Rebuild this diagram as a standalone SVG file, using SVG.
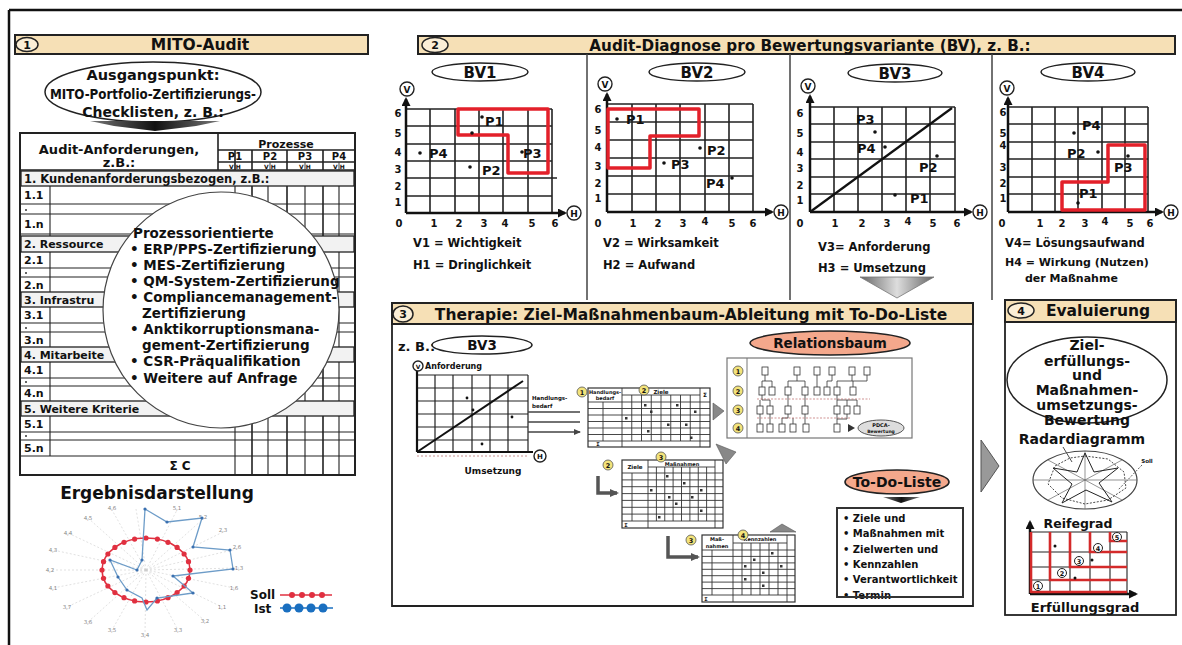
<svg xmlns="http://www.w3.org/2000/svg" width="1182" height="645" viewBox="0 0 1182 645">
<defs>
<style>
.t{font-family:"DejaVu Sans","Liberation Sans",Arial,sans-serif;font-weight:bold;fill:#111}
.c{text-anchor:middle}
.lbl{font-family:"DejaVu Sans","Liberation Sans",Arial,sans-serif;font-size:5.5px;fill:#888;text-anchor:middle}
.hdr{fill:#f6e0b6;stroke:#222;stroke-width:2}
.hc{fill:#fbeed6;stroke:#222;stroke-width:1.5}
.pill{fill:#fff;stroke:#222;stroke-width:1.5}
.grid{stroke:#222;stroke-width:1.6;fill:none}
.axis{stroke:#111;stroke-width:2.5;fill:none}
.vc{fill:#fff;stroke:#222;stroke-width:1.4}
.red{stroke:#e3202a;stroke-width:3.5;fill:none;stroke-linejoin:round}
.thin{stroke:#333;stroke-width:0.8;fill:none}
.tb{stroke:#333;stroke-width:0.9;fill:none}
.yc{fill:#f3e37a;stroke:#555;stroke-width:0.8}
.salmon{fill:#f4a88c;stroke:#222;stroke-width:1.6}
.rl{stroke:#d42a2a;stroke-width:2.6;fill:none}
.mk{fill:#333}
</style>
<marker id="ah" markerWidth="9" markerHeight="9" refX="7" refY="4.5" orient="auto" markerUnits="userSpaceOnUse"><path d="M0,0L9,4.5L0,9z" fill="#111"/></marker>
<marker id="ahs" markerWidth="7" markerHeight="6" refX="6" refY="3" orient="auto" markerUnits="userSpaceOnUse"><path d="M0,0L7,3L0,6z" fill="#444"/></marker>
<marker id="ahg" markerWidth="9" markerHeight="8" refX="7" refY="4" orient="auto" markerUnits="userSpaceOnUse"><path d="M0,0L9,4L0,8z" fill="#555"/></marker>
<linearGradient id="gray" x1="0" y1="0" x2="1" y2="0"><stop offset="0" stop-color="#666"/><stop offset="0.5" stop-color="#ddd"/><stop offset="1" stop-color="#666"/></linearGradient>
<linearGradient id="dark" x1="0" y1="0" x2="1" y2="0"><stop offset="0" stop-color="#777"/><stop offset="0.5" stop-color="#111"/><stop offset="1" stop-color="#777"/></linearGradient>
</defs>
<rect width="1182" height="645" fill="#fff"/>
<path d="M9,10H1182M9,10V645" stroke="#111" stroke-width="2.5" fill="none"/>

<!-- ============ SECTION 1 ============ -->
<g id="sec1-header">
<rect x="15" y="35" width="353" height="19" class="hdr"/>
<ellipse cx="27" cy="44.5" rx="11" ry="7" class="hc"/>
<text x="27" y="48.5" class="t c" font-size="11">1</text>
<text x="200" y="50" class="t c" font-size="15.5">MITO-Audit</text>
</g>
<g id="ausgangspunkt">
<ellipse cx="153" cy="92" rx="108" ry="30" class="pill"/>
<text x="153" y="80" class="t c" font-size="14.5">Ausgangspunkt:</text>
<text x="153" y="99" class="t c" font-size="14" textLength="206" lengthAdjust="spacingAndGlyphs">MITO-Portfolio-Zertifizierungs-</text>
<text x="153" y="117" class="t c" font-size="14">Checklisten, z. B.:</text>
<polygon points="90,121 220,121 196,126 155,131 114,126" fill="url(#dark)"/>
</g>
<g id="audit-table">
<rect x="20" y="133" width="335" height="342" fill="#fff" stroke="#222" stroke-width="2"/>
<path class="grid" d="M218,133V170M218,150H355M218,162H355M235,150V170M252,150V170M287,150V170M323,150V170M20,170H355"/>
<path class="tb" d="M270,162V170M305,162V170M339,162V170"/>
<text x="119" y="154" class="t c" font-size="13">Audit-Anforderungen,</text>
<text x="119" y="167" class="t c" font-size="13">z.B.:</text>
<text x="286" y="148" class="t c" font-size="11">Prozesse</text>
<text x="235" y="160" class="t c" font-size="10">P1</text>
<text x="270" y="160" class="t c" font-size="10">P2</text>
<text x="305" y="160" class="t c" font-size="10">P3</text>
<text x="339" y="160" class="t c" font-size="10">P4</text>
<text x="235" y="168.5" class="t c" font-size="6">V H</text>
<text x="270" y="168.5" class="t c" font-size="6">V H</text>
<text x="305" y="168.5" class="t c" font-size="6">V H</text>
<text x="339" y="168.5" class="t c" font-size="6">V H</text>
<path class="grid" d="M252,186V475M287,186V475M323,186V475"/>
<path d="M235,186V475M268,186V475M305,186V475M339,186V475M50,186V456" stroke="#222" stroke-width="1.1" fill="none"/>
<path d="M20,204H355M20,214H355M20,234H355M20,268H355M20,277H355M20,323H355M20,332H355M20,378H355M20,386H355M20,432H355M20,440H355M20,456H355" stroke="#222" stroke-width="1.1" fill="none"/>
<rect x="21" y="171" width="333" height="15" fill="#f2f2f2" stroke="#222" stroke-width="1.3"/>
<rect x="21" y="236" width="333" height="16" fill="#f2f2f2" stroke="#222" stroke-width="1.3"/>
<rect x="21" y="292" width="333" height="15" fill="#f2f2f2" stroke="#222" stroke-width="1.3"/>
<rect x="21" y="347" width="333" height="15" fill="#f2f2f2" stroke="#222" stroke-width="1.3"/>
<rect x="21" y="401" width="333" height="15" fill="#f2f2f2" stroke="#222" stroke-width="1.3"/>
<text x="24" y="182.5" class="t" font-size="11.5">1. Kundenanforderungsbezogen, z.B.:</text>
<text x="24" y="248" class="t" font-size="11">2. Ressource</text>
<text x="24" y="303.5" class="t" font-size="11">3. Infrastru</text>
<text x="24" y="358.5" class="t" font-size="11">4. Mitarbeite</text>
<text x="24" y="412.5" class="t" font-size="11">5. Weitere Kriterie</text>
<text x="24" y="199" class="t" font-size="11">1.1</text>
<text x="24" y="228" class="t" font-size="11">1.n</text>
<text x="24" y="264" class="t" font-size="11">2.1</text>
<text x="24" y="289" class="t" font-size="11">2.n</text>
<text x="24" y="319" class="t" font-size="11">3.1</text>
<text x="24" y="344" class="t" font-size="11">3.n</text>
<text x="24" y="374" class="t" font-size="11">4.1</text>
<text x="24" y="397" class="t" font-size="11">4.n</text>
<text x="24" y="428" class="t" font-size="11">5.1</text>
<text x="24" y="452" class="t" font-size="11">5.n</text>
<g fill="#333"><circle cx="26" cy="210" r="1"/><circle cx="26" cy="273" r="1"/><circle cx="26" cy="328" r="1"/><circle cx="26" cy="382" r="1"/><circle cx="26" cy="436" r="1"/></g>
<text x="180" y="470" class="t c" font-size="12">Σ C</text>
</g>
<g id="prozess-kreis">
<circle cx="221" cy="310" r="118" fill="#fff" stroke="#444" stroke-width="1.2"/>
<text x="133" y="238" class="t" font-size="13.5">Prozessorientierte</text>
<text x="130" y="254" class="t" font-size="13.5">• ERP/PPS-Zertifizierung</text>
<text x="130" y="270" class="t" font-size="13.5">• MES-Zertifizierung</text>
<text x="130" y="286" class="t" font-size="13.5">• QM-System-Zertifizierung</text>
<text x="130" y="302" class="t" font-size="13.5">• Compliancemanagement-</text>
<text x="142" y="318" class="t" font-size="13.5">Zertifizierung</text>
<text x="130" y="334" class="t" font-size="13.5">• Anktikorruptionsmana-</text>
<text x="142" y="350" class="t" font-size="13.5">gement-Zertifizierung</text>
<text x="130" y="366" class="t" font-size="13.5">• CSR-Präqualifikation</text>
<text x="130" y="383" class="t" font-size="13.5">• Weitere auf Anfrage</text>
</g>
<g id="ergebnisdarstellung">
<text x="157" y="499" class="t c" font-size="17">Ergebnisdarstellung</text>
<path d="M146,570L112,510M146,570L177,510M146,570L203,519M146,570L223,532M146,570L237,549M146,570L239,568M146,570L234,588M146,570L222,607M146,570L205,621M146,570L178,630M146,570L145,635M146,570L112,630M146,570L88,622M146,570L67,607M146,570L53,588M146,570L50,570M146,570L53,550M146,570L68,533M146,570L88,518M146,570L136,509" stroke="#ccc" stroke-width="0.6" stroke-dasharray="2 2" fill="none"/>
<g>
<text class="lbl" x="112" y="510">4,6</text><text class="lbl" x="177" y="510">5,1</text><text class="lbl" x="203" y="519">5,2</text><text class="lbl" x="223" y="532">2,3</text><text class="lbl" x="237" y="549">2,6</text><text class="lbl" x="239" y="570">1,3</text><text class="lbl" x="234" y="590">1,6</text><text class="lbl" x="222" y="609">1,1</text><text class="lbl" x="205" y="623">3,2</text><text class="lbl" x="178" y="632">3,3</text><text class="lbl" x="145" y="637">3,4</text><text class="lbl" x="112" y="632">3,5</text><text class="lbl" x="88" y="624">3,6</text><text class="lbl" x="67" y="609">3,7</text><text class="lbl" x="53" y="590">4,1</text><text class="lbl" x="50" y="572">4,2</text><text class="lbl" x="53" y="552">4,3</text><text class="lbl" x="68" y="535">4,4</text><text class="lbl" x="88" y="520">4,5</text>
</g>
<ellipse cx="146" cy="570" rx="44" ry="32" fill="none" stroke="#e03040" stroke-width="1.6"/>
<g fill="#e03040">
<circle cx="190" cy="570" r="2.6"/><circle cx="188.5" cy="578.3" r="2.6"/><circle cx="184.1" cy="586" r="2.6"/><circle cx="177.1" cy="592.6" r="2.6"/><circle cx="168" cy="597.7" r="2.6"/><circle cx="157.4" cy="600.9" r="2.6"/><circle cx="146" cy="602" r="2.6"/><circle cx="134.6" cy="600.9" r="2.6"/><circle cx="124" cy="597.7" r="2.6"/><circle cx="114.9" cy="592.6" r="2.6"/><circle cx="107.9" cy="586" r="2.6"/><circle cx="103.5" cy="578.3" r="2.6"/><circle cx="102" cy="570" r="2.6"/><circle cx="103.5" cy="561.7" r="2.6"/><circle cx="107.9" cy="554" r="2.6"/><circle cx="114.9" cy="547.4" r="2.6"/><circle cx="124" cy="542.3" r="2.6"/><circle cx="134.6" cy="539.1" r="2.6"/><circle cx="146" cy="538" r="2.6"/><circle cx="157.4" cy="539.1" r="2.6"/><circle cx="168" cy="542.3" r="2.6"/><circle cx="177.1" cy="547.4" r="2.6"/><circle cx="184.1" cy="554" r="2.6"/><circle cx="188.5" cy="561.7" r="2.6"/>
</g>
<polygon points="145,509 167,522 202,518 193,547 230,550 233,569 173,576 193,593 157,598 147,610 142,598 127,590 118,577 110,560 137,570 142,560" fill="none" stroke="#6d9cc8" stroke-width="1.3"/>
<g fill="#3a70b0"><circle cx="145" cy="509" r="1.6"/><circle cx="167" cy="522" r="1.6"/><circle cx="202" cy="518" r="1.6"/><circle cx="193" cy="547" r="1.6"/><circle cx="230" cy="550" r="1.6"/><circle cx="233" cy="569" r="1.6"/><circle cx="173" cy="576" r="1.6"/><circle cx="193" cy="593" r="1.6"/><circle cx="157" cy="598" r="1.6"/><circle cx="127" cy="590" r="1.6"/><circle cx="118" cy="577" r="1.6"/><circle cx="110" cy="560" r="1.6"/><circle cx="137" cy="570" r="1.6"/><circle cx="142" cy="560" r="1.6"/></g>
<text x="250" y="599" class="t" font-size="12">Soll</text>
<text x="254" y="613" class="t" font-size="12">Ist</text>
<path d="M280,595H332" stroke="#e03040" stroke-width="1.5"/>
<g fill="#e03040"><circle cx="292" cy="595" r="3"/><circle cx="302" cy="595" r="3"/><circle cx="312" cy="595" r="3"/><circle cx="322" cy="595" r="3"/></g>
<path d="M280,608H333" stroke="#1a6fc0" stroke-width="1.5"/>
<g fill="#1a6fc0"><circle cx="287" cy="608" r="4.5"/><circle cx="299" cy="608" r="4.5"/><circle cx="311" cy="608" r="4.5"/><circle cx="323" cy="608" r="4.5"/></g>
</g>

<!-- ============ SECTION 2 ============ -->
<g id="sec2-header">
<rect x="418" y="36" width="757" height="18" class="hdr"/>
<ellipse cx="435" cy="45" rx="13" ry="7.5" class="hc"/>
<text x="435" y="49" class="t c" font-size="11">2</text>
<text x="810" y="50.5" class="t c" font-size="15.2">Audit-Diagnose pro Bewertungsvariante (BV), z. B.:</text>
</g>
<path d="M587,54V300M790,54V300M992,54V300" stroke="#444" stroke-width="1.5" fill="none"/>

<g id="bv1">
<ellipse cx="480" cy="72" rx="48" ry="9" class="pill"/>
<text x="480" y="77.5" class="t c" font-size="15">BV1</text>
<path class="grid" d="M430,109V213M455,109V213M479,109V213M503,109V213M528,109V213M552,109V213M406,109H552M406,126H552M406,144H552M406,161H552M406,178H557M406,196H552"/>
<path class="axis" d="M406,213V99" marker-end="url(#ah)"/>
<path class="axis" d="M406,213H565" marker-end="url(#ah)"/>
<circle cx="407" cy="89" r="7" class="vc"/><text x="407" y="92.5" class="t c" font-size="9">V</text>
<circle cx="574" cy="213" r="7" class="vc"/><text x="574" y="216.5" class="t c" font-size="9">H</text>
<g class="t c" font-size="10">
<text x="398" y="117">6</text><text x="398" y="137">5</text><text x="398" y="156">4</text><text x="398" y="173">3</text><text x="398" y="190">2</text><text x="398" y="206">1</text>
<text x="399" y="227">0</text><text x="434" y="227">1</text><text x="459" y="227">2</text><text x="484" y="227">3</text><text x="505" y="227">4</text><text x="532" y="227">5</text><text x="555" y="227">6</text>
</g>
<path class="red" d="M458,109H548V173H508V135H458Z"/>
<g fill="#111"><circle cx="482" cy="117" r="1.8"/><circle cx="472" cy="133" r="1.8"/><circle cx="420" cy="153" r="1.8"/><circle cx="470" cy="167" r="1.8"/><circle cx="522" cy="152" r="1.8"/></g>
<text x="485" y="126" class="t" font-size="13">P1</text>
<text x="429" y="158" class="t" font-size="13">P4</text>
<text x="482" y="175" class="t" font-size="13">P2</text>
<text x="523" y="158" class="t" font-size="13">P3</text>
<text x="413" y="247" class="t" font-size="11.5">V1 = Wichtigkeit</text>
<text x="413" y="269" class="t" font-size="11.5">H1 = Dringlichkeit</text>
</g>

<g id="bv2">
<ellipse cx="697" cy="72" rx="48" ry="9" class="pill"/>
<text x="697" y="77.5" class="t c" font-size="15">BV2</text>
<path class="grid" d="M632,104V212M656,104V212M680,104V212M705,104V212M729,104V212M753,104V212M607,104H753M607,122H753M607,140H753M607,158H753M607,176H753M607,194H753"/>
<path class="axis" d="M607,212V94" marker-end="url(#ah)"/>
<path class="axis" d="M607,212H772" marker-end="url(#ah)"/>
<circle cx="605" cy="84" r="7" class="vc"/><text x="605" y="87.5" class="t c" font-size="9">V</text>
<circle cx="781" cy="212" r="7" class="vc"/><text x="781" y="215.5" class="t c" font-size="9">H</text>
<g class="t c" font-size="10">
<text x="598" y="113">6</text><text x="598" y="134">5</text><text x="598" y="151">4</text><text x="598" y="170">3</text><text x="598" y="187">2</text><text x="598" y="202">1</text>
<text x="598" y="227">0</text><text x="633" y="227">1</text><text x="658" y="227">2</text><text x="683" y="227">3</text><text x="705" y="225">4</text><text x="732" y="227">5</text><text x="753" y="227">6</text>
</g>
<path class="red" d="M608,109H699V136H650V168H608Z"/>
<g fill="#111"><circle cx="617" cy="119" r="1.8"/><circle cx="700" cy="148" r="1.8"/><circle cx="664" cy="163" r="1.8"/><circle cx="732" cy="178" r="1.8"/></g>
<text x="626" y="124" class="t" font-size="13">P1</text>
<text x="707" y="155" class="t" font-size="13">P2</text>
<text x="671" y="169" class="t" font-size="13">P3</text>
<text x="706" y="188" class="t" font-size="13">P4</text>
<text x="603" y="247" class="t" font-size="11.5">V2 = Wirksamkeit</text>
<text x="603" y="269" class="t" font-size="11.5">H2 = Aufwand</text>
</g>

<g id="bv3">
<ellipse cx="895" cy="73" rx="47" ry="9" class="pill"/>
<text x="895" y="78.5" class="t c" font-size="15">BV3</text>
<path class="grid" d="M834,107V212M858,107V212M882,107V212M906,107V212M930,107V212M955,107V212M810,107H955M810,124H955M810,142H955M810,159H955M810,177H955M810,194H955"/>
<path class="axis" d="M810,212V96" marker-end="url(#ah)"/>
<path class="axis" d="M810,212H971" marker-end="url(#ah)"/>
<path d="M810,212L952,108" stroke="#111" stroke-width="2.2"/>
<circle cx="808" cy="86" r="7" class="vc"/><text x="808" y="89.5" class="t c" font-size="9">V</text>
<circle cx="980" cy="212" r="7" class="vc"/><text x="980" y="215.5" class="t c" font-size="9">H</text>
<g class="t c" font-size="10">
<text x="800" y="117">6</text><text x="800" y="137">5</text><text x="800" y="156">4</text><text x="800" y="172">3</text><text x="800" y="189">2</text><text x="800" y="204">1</text>
<text x="800" y="227">0</text><text x="835" y="227">1</text><text x="862" y="227">2</text><text x="887" y="227">3</text><text x="908" y="225">4</text><text x="933" y="227">5</text><text x="957" y="227">6</text>
</g>
<g fill="#111"><circle cx="875" cy="132" r="1.8"/><circle cx="885" cy="147" r="1.8"/><circle cx="937" cy="156" r="1.8"/><circle cx="895" cy="195" r="1.8"/></g>
<text x="856" y="124" class="t" font-size="13">P3</text>
<text x="857" y="153" class="t" font-size="13">P4</text>
<text x="919" y="172" class="t" font-size="13">P2</text>
<text x="910" y="203" class="t" font-size="13">P1</text>
<text x="818" y="251" class="t" font-size="11.5">V3= Anforderung</text>
<text x="818" y="272" class="t" font-size="11.5">H3 = Umsetzung</text>
</g>

<g id="bv4">
<ellipse cx="1088" cy="72" rx="47" ry="9" class="pill"/>
<text x="1088" y="77.5" class="t c" font-size="15">BV4</text>
<path class="grid" d="M1032,107V212M1055,107V212M1078,107V212M1102,107V212M1125,107V212M1148,107V212M1008,107H1148M1008,124H1148M1008,142H1148M1008,159H1148M1008,177H1148M1008,194H1148"/>
<path class="axis" d="M1008,212V98" marker-end="url(#ah)"/>
<path class="axis" d="M1008,212H1162" marker-end="url(#ah)"/>
<circle cx="1007" cy="88" r="7" class="vc"/><text x="1007" y="91.5" class="t c" font-size="9">V</text>
<circle cx="1171" cy="212" r="7" class="vc"/><text x="1171" y="215.5" class="t c" font-size="9">H</text>
<g class="t c" font-size="10">
<text x="1003" y="116">6</text><text x="1003" y="137">5</text><text x="1003" y="149">4</text><text x="1003" y="171">3</text><text x="1003" y="187">2</text><text x="1003" y="202">1</text>
<text x="1002" y="227">0</text><text x="1040" y="227">1</text><text x="1062" y="227">2</text><text x="1085" y="227">3</text><text x="1105" y="225">4</text><text x="1130" y="227">5</text><text x="1150" y="227">6</text>
</g>
<path class="red" d="M1062,182H1108V145H1145V210H1062Z"/>
<g fill="#111"><circle cx="1074" cy="133" r="1.8"/><circle cx="1098" cy="152" r="1.8"/><circle cx="1128" cy="156" r="1.8"/><circle cx="1078" cy="203" r="1.8"/></g>
<text x="1082" y="130" class="t" font-size="13">P4</text>
<text x="1067" y="158" class="t" font-size="13">P2</text>
<text x="1114" y="172" class="t" font-size="13">P3</text>
<text x="1079" y="198" class="t" font-size="13">P1</text>
<text x="1005" y="247" class="t" font-size="11.5">V4= Lösungsaufwand</text>
<text x="1005" y="266" class="t" font-size="11">H4 = Wirkung (Nutzen)</text>
<text x="1025" y="282" class="t" font-size="11">der Maßnahme</text>
</g>

<!-- ============ SECTION 3 ============ -->
<g id="sec3-header">
<rect x="392" y="303" width="581" height="21" class="hdr"/>
<ellipse cx="403" cy="314" rx="10" ry="8" class="hc"/>
<text x="403" y="318" class="t c" font-size="11">3</text>
<text x="691" y="319.5" class="t c" font-size="15.5">Therapie: Ziel-Maßnahmenbaum-Ableitung mit To-Do-Liste</text>
</g>
<path d="M392,324V606H973V324" stroke="#222" stroke-width="1.8" fill="none"/>

<g id="bv3-beispiel">
<text x="398" y="351" class="t" font-size="13">z. B.:</text>
<ellipse cx="482" cy="345" rx="50" ry="9" class="pill"/>
<text x="482" y="350" class="t c" font-size="13.5">BV3</text>
<path d="M435,375V452M453,375V452M472,375V452M490,375V452M508,375V452M528,375V452M417,375H528M417,388H528M417,401H528M417,414H528M417,427H528M417,440H528" stroke="#222" stroke-width="1.2" fill="none"/>
<path d="M417,452V371M417,452H533" stroke="#111" stroke-width="2.2" fill="none"/>
<path d="M417,452L523,381" stroke="#111" stroke-width="2"/>
<path d="M417,456H528" stroke="#b77" stroke-width="0.8" stroke-dasharray="2 2"/>
<circle cx="418" cy="366" r="5" class="vc"/><text x="418" y="368.5" class="t c" font-size="6">V</text>
<text x="425" y="369" class="t" font-size="8">Anforderung</text>
<circle cx="540" cy="456" r="6" class="vc"/><text x="540" y="459" class="t c" font-size="7">H</text>
<text x="493" y="474" class="t c" font-size="9">Umsetzung</text>
<g fill="#111"><circle cx="467" cy="398" r="1.4"/><circle cx="473" cy="410" r="1.4"/><circle cx="512" cy="417" r="1.4"/><circle cx="482" cy="444" r="1.4"/></g>
<text x="532" y="400" class="t" font-size="5.5">Handlungs-</text>
<text x="532" y="408" class="t" font-size="5.5">bedarf</text>
</g>

<g id="tabelle1">
<rect x="588" y="388" width="122" height="59" fill="#fff" stroke="#333" stroke-width="1.2"/>
<path class="tb" d="M603,402V441M622,388V447M631.75,395V441M641.5,395V441M651.25,395V441M661,395V441M670.75,395V441M680.5,395V441M690.25,395V441M700,388V447M622,395H700M588,402H710M588,408.5H710M588,415H710M588,421.5H710M588,428H710M588,434.5H710M588,441H710"/>
<text x="605" y="394" class="t c" font-size="5">Handlungs-</text>
<text x="605" y="400" class="t c" font-size="5">bedarf</text>
<text x="661" y="393.5" class="t c" font-size="5.5">Ziele</text>
<text x="705" y="397" class="t c" font-size="6">Σ</text>
<text x="598" y="446" class="t c" font-size="5">Σ</text>
<g class="mk"><rect x="644" y="404" width="2.5" height="2.5"/><rect x="676" y="404" width="2.5" height="2.5"/><rect x="650" y="410.5" width="2.5" height="2.5"/><rect x="694" y="410.5" width="2.5" height="2.5"/><rect x="625" y="417" width="2.5" height="2.5"/><rect x="667" y="423.5" width="2.5" height="2.5"/><rect x="685" y="423.5" width="2.5" height="2.5"/><rect x="647" y="430" width="2.5" height="2.5"/><rect x="690" y="436.5" width="2.5" height="2.5"/></g>
<circle cx="582" cy="392" r="5" class="yc"/><text x="582" y="394.5" class="t c" font-size="6.5">1</text>
<circle cx="644" cy="390" r="5" class="yc"/><text x="644" y="392.5" class="t c" font-size="6.5">2</text>
</g>

<g id="tabelle2">
<rect x="622" y="460" width="101" height="68" fill="#fff" stroke="#333" stroke-width="1.2"/>
<path class="tb" d="M632,473V521M648,460V528M656.4,467V521M664.75,467V521M673.1,467V521M681.5,467V521M689.9,467V521M698.25,467V521M706.6,467V521M715,460V528M648,467H715M622,473H723M622,479.9H723M622,486.7H723M622,493.6H723M622,500.4H723M622,507.3H723M622,514.1H723M622,521H723"/>
<text x="635" y="468.5" class="t c" font-size="5.5">Ziele</text>
<text x="682" y="465.5" class="t c" font-size="5">Maßnahmen</text>
<text x="626" y="527" class="t c" font-size="5">Σ</text>
<g class="mk"><rect x="666" y="475" width="2.5" height="2.5"/><rect x="683" y="482" width="2.5" height="2.5"/><rect x="650" y="489" width="2.5" height="2.5"/><rect x="700" y="489" width="2.5" height="2.5"/><rect x="668" y="496" width="2.5" height="2.5"/><rect x="691" y="496" width="2.5" height="2.5"/><rect x="675" y="502.5" width="2.5" height="2.5"/><rect x="700" y="509.5" width="2.5" height="2.5"/><rect x="658" y="516" width="2.5" height="2.5"/></g>
<circle cx="608" cy="465" r="5" class="yc"/><text x="608" y="467.5" class="t c" font-size="6.5">2</text>
<circle cx="661" cy="457" r="5" class="yc"/><text x="661" y="459.5" class="t c" font-size="6.5">3</text>
</g>

<g id="tabelle3">
<rect x="702" y="535" width="93" height="67" fill="#fff" stroke="#333" stroke-width="1.2"/>
<path class="tb" d="M712,550V595M733,535V602M742,543V595M751,543V595M760,543V595M769,543V595M778,543V595M787,535V602M733,543H787M702,550H795M702,556.4H795M702,562.9H795M702,569.3H795M702,575.7H795M702,582.1H795M702,588.6H795M702,595H795"/>
<text x="717" y="541" class="t c" font-size="5">Maß-</text>
<text x="717" y="547.5" class="t c" font-size="5">nahmen</text>
<text x="760" y="541" class="t c" font-size="5">Kennzahlen</text>
<text x="706" y="601" class="t c" font-size="5">Σ</text>
<g class="mk"><rect x="771" y="552" width="2.5" height="2.5"/><rect x="753" y="558.5" width="2.5" height="2.5"/><rect x="744" y="565" width="2.5" height="2.5"/><rect x="780" y="565" width="2.5" height="2.5"/><rect x="762" y="571.5" width="2.5" height="2.5"/><rect x="744" y="578" width="2.5" height="2.5"/><rect x="762" y="584.5" width="2.5" height="2.5"/></g>
<circle cx="691" cy="540" r="5" class="yc"/><text x="691" y="542.5" class="t c" font-size="6.5">3</text>
<circle cx="743" cy="535" r="5" class="yc"/><text x="743" y="537.5" class="t c" font-size="6.5">4</text>
</g>

<g id="relationsbaum">
<ellipse cx="830" cy="343" rx="80" ry="12" class="salmon"/>
<text x="830" y="348" class="t c" font-size="13.5">Relationsbaum</text>
<rect x="727" y="358" width="185" height="80" fill="#fff" stroke="#777" stroke-width="1.2"/>
<path d="M747,358V438" stroke="#777" stroke-width="1"/>
<circle cx="738" cy="371" r="5" class="yc"/><text x="738" y="373.5" class="t c" font-size="6.5">1</text>
<circle cx="738" cy="391" r="5" class="yc"/><text x="738" y="393.5" class="t c" font-size="6.5">2</text>
<circle cx="738" cy="410" r="5" class="yc"/><text x="738" y="412.5" class="t c" font-size="6.5">3</text>
<circle cx="738" cy="428" r="5" class="yc"/><text x="738" y="430.5" class="t c" font-size="6.5">4</text>
<path class="thin" d="M765,375V381M762,381H772M762,381V387M772,381V387M797,375V381M788,381H805M788,381V387M805,381V387M817,375V387M832,375V381H827V387M852,375V381M837,381H867M867,375V381M837,381V387M853,381V387M762,395V400H770M760,400V406M770,400V406M788,395V406M805,395V406M837,395V400H857M837,400V406M847,400V406M857,400V406M760,414V424M770,414V424M788,414V418H782V424M793,418V424M805,414V424M837,414V424M847,414V419H837"/>
<path d="M757,399H870M757,418H850" stroke="#b66" stroke-width="0.7" stroke-dasharray="2 1.5"/>
<g fill="#fff" stroke="#333" stroke-width="0.8">
<rect x="762" y="367" width="6" height="8"/><rect x="794" y="367" width="6" height="8"/><rect x="814" y="367" width="6" height="8"/><rect x="829" y="367" width="6" height="8"/><rect x="849" y="367" width="6" height="8"/><rect x="864" y="367" width="6" height="8"/>
<rect x="759" y="387" width="6" height="8"/><rect x="769" y="387" width="6" height="8"/><rect x="785" y="387" width="6" height="8"/><rect x="802" y="387" width="6" height="8"/><rect x="814" y="387" width="6" height="8"/><rect x="824" y="387" width="6" height="8"/><rect x="834" y="387" width="6" height="8"/><rect x="850" y="387" width="6" height="8"/>
<rect x="757" y="406" width="6" height="8"/><rect x="767" y="406" width="6" height="8"/><rect x="785" y="406" width="6" height="8"/><rect x="802" y="406" width="6" height="8"/><rect x="834" y="406" width="6" height="8"/><rect x="844" y="406" width="6" height="8"/><rect x="854" y="406" width="6" height="8"/>
<rect x="757" y="424" width="6" height="8"/><rect x="767" y="424" width="6" height="8"/><rect x="779" y="424" width="6" height="8"/><rect x="790" y="424" width="6" height="8"/><rect x="803" y="424" width="6" height="8"/><rect x="834" y="424" width="6" height="8"/>
</g>
<polygon points="848,424 855,428 848,432" fill="#333"/>
<ellipse cx="881" cy="428" rx="23" ry="8" fill="#ddd" stroke="#555" stroke-width="1"/>
<text x="881" y="427" class="t c" font-size="5">PDCA-</text>
<text x="881" y="433" class="t c" font-size="4.5">Bewertung</text>
</g>

<g id="todo-liste">
<ellipse cx="897" cy="482" rx="52" ry="12" class="salmon"/>
<text x="897" y="487" class="t c" font-size="14">To-Do-Liste</text>
<polygon points="883,497 920,497 901,503" fill="url(#dark)"/>
<rect x="837" y="508" width="126" height="89" fill="#fff" stroke="#333" stroke-width="2"/>
<text x="843" y="522" class="t" font-size="10">• Ziele und</text>
<text x="843" y="537" class="t" font-size="10">• Maßnahmen mit</text>
<text x="843" y="553" class="t" font-size="10">• Zielwerten und</text>
<text x="843" y="568" class="t" font-size="10">• Kennzahlen</text>
<text x="843" y="583" class="t" font-size="10">• Verantwortlichkeit</text>
<text x="843" y="599" class="t" font-size="10">• Termin</text>
<path d="M837,597H963" stroke="#333" stroke-width="2"/>
</g>

<!-- ============ SECTION 4 ============ -->
<g id="sec4-header">
<rect x="1005" y="300" width="171" height="22" class="hdr"/>
<ellipse cx="1021" cy="310.5" rx="13" ry="7.5" class="hc"/>
<text x="1021" y="314.5" class="t c" font-size="11">4</text>
<text x="1098" y="316" class="t c" font-size="15.5">Evaluierung</text>
</g>
<rect x="1005" y="322" width="171" height="293" fill="none" stroke="#222" stroke-width="1.8"/>
<g id="zielerfuellung">
<ellipse cx="1087" cy="380" rx="80" ry="43" class="pill"/>
<text x="1087" y="350" class="t c" font-size="14">Ziel-</text>
<text x="1087" y="366" class="t c" font-size="14">erfüllungs-</text>
<text x="1087" y="380" class="t c" font-size="14">und</text>
<text x="1087" y="395" class="t c" font-size="14">Maßnahmen-</text>
<text x="1087" y="410" class="t c" font-size="14">umsetzungs-</text>
<text x="1087" y="425" class="t c" font-size="14">Bewertung</text>
</g>
<g id="radardiagramm">
<text x="1082" y="444" class="t c" font-size="14">Radardiagramm</text>
<path d="M1063,447L1072,462" stroke="#222" stroke-width="0.8"/>
<ellipse cx="1085" cy="480" rx="52" ry="29" fill="none" stroke="#444" stroke-width="1.2"/>
<path d="M1085,451V509M1033,480H1137M1048,460L1122,500M1048,500L1122,460" stroke="#666" stroke-width="0.7" fill="none"/>
<polygon points="1085,456 1108,459 1124,472 1126,488 1108,500 1085,504 1062,498 1048,484 1055,466 1070,458" fill="none" stroke="#333" stroke-width="0.9" stroke-dasharray="2 1.5"/>
<polygon points="1085,453 1094,472 1118,468 1099,483 1112,502 1086,490 1062,503 1072,484 1053,468 1077,472" fill="none" stroke="#222" stroke-width="1"/>
<path d="M1142,465L1118,490" stroke="#333" stroke-width="0.8" stroke-dasharray="2 1.5"/>
<text x="1147" y="463" class="t c" font-size="5.5">Soll</text>
</g>
<g id="reifegrad">
<text x="1078" y="528" class="t c" font-size="12.5">Reifegrad</text>
<path d="M1050,532V594M1070,532V594M1090,532V594M1110,532V594M1127,532V594M1030,532H1127M1030,552H1127M1030,567H1127M1030,580H1127" stroke="#222" stroke-width="1.1" fill="none"/>
<path class="axis" d="M1030,594V522" marker-end="url(#ah)"/>
<path class="axis" d="M1030,594H1136" marker-end="url(#ah)"/>
<path class="rl" d="M1031,593V532M1031,592H1127M1050,532V580H1127M1070,532V567H1127M1090,532V552H1127M1110,532V541H1127"/>
<g fill="#fff" stroke="#222" stroke-width="1">
<circle cx="1038" cy="586" r="4.5"/><circle cx="1062" cy="573" r="4.5"/><circle cx="1079" cy="561" r="4.5"/><circle cx="1098" cy="548" r="4.5"/><circle cx="1117" cy="537" r="4.5"/>
</g>
<g class="t c" font-size="6.5">
<text x="1038" y="588.5">1</text><text x="1062" y="575.5">2</text><text x="1079" y="563.5">3</text><text x="1098" y="550.5">4</text><text x="1117" y="539.5">5</text>
</g>
<g fill="#111"><circle cx="1055" cy="546" r="1.5"/><circle cx="1075" cy="578" r="1.5"/><circle cx="1092" cy="560" r="1.5"/></g>
<text x="1085" y="612" class="t c" font-size="13">Erfüllungsgrad</text>
</g>

<!-- ============ CONNECTORS ============ -->
<g id="connectors">
<polygon points="860,277 934,277 897,298" fill="url(#gray)" stroke="#777" stroke-width="0.8"/>
<path d="M528,412H580M528,422H580M528,432H580" stroke="#444" stroke-width="1.5" fill="none" marker-end="url(#ahs)"/>
<polygon points="713,403 724,411 713,420" fill="#888" stroke="#555" stroke-width="0.6"/>
<polygon points="716,444 736,452 726,464" fill="#888" stroke="#555" stroke-width="0.6"/>
<polygon points="770,532 782,524 796,532" fill="#888" stroke="#555" stroke-width="0.6"/>
<path d="M598,476V493H617" stroke="#555" stroke-width="3.5" fill="none" marker-end="url(#ahg)"/>
<path d="M668,536V557H698" stroke="#555" stroke-width="3.5" fill="none" marker-end="url(#ahg)"/>
<polygon points="981,440 999,466 981,492" fill="#999" stroke="#555" stroke-width="1"/>
</g>
</svg>
